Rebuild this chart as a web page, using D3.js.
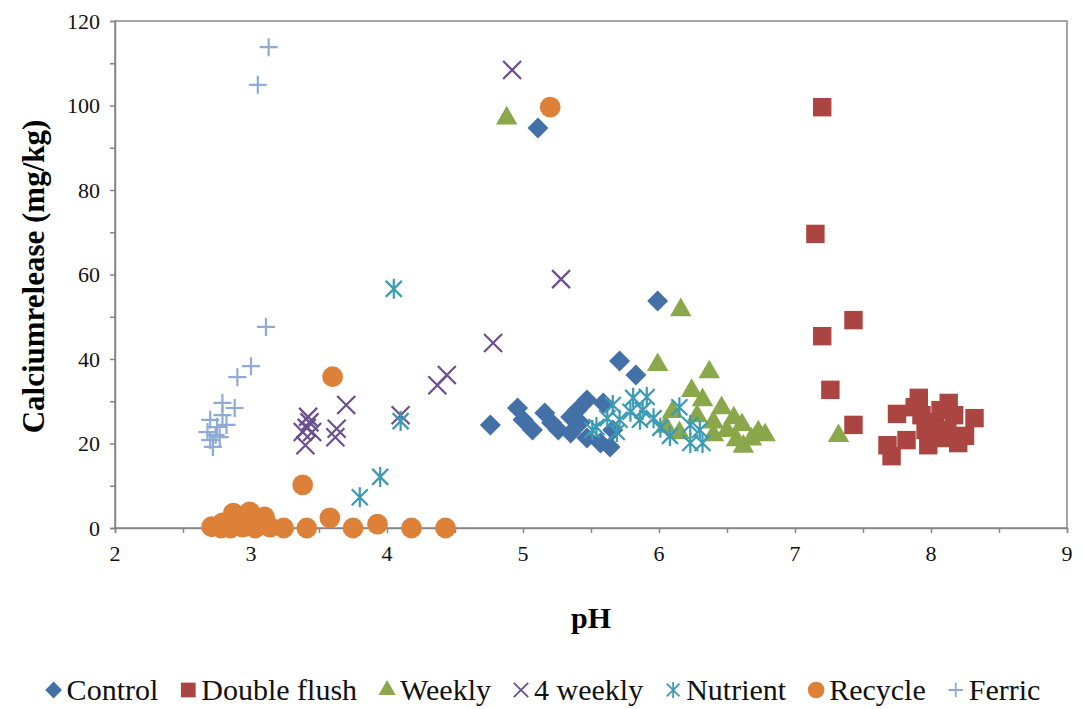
<!DOCTYPE html>
<html>
<head>
<meta charset="utf-8">
<script src="https://cdn.jsdelivr.net/npm/d3@7"></script>
<style>
  body { margin: 0; background: #fff; }
  svg { display: block; font-family: "Liberation Serif", "DejaVu Serif", serif; }
</style>
</head>
<body>
<svg id="chart" width="1082" height="709"></svg>
<script>
// values: [pH, calcium release]
var control = [[4.76,24.4],[4.96,28.4],[5.00,25.6],[5.07,23.2],[5.16,27.2],[5.21,24.9],[5.26,23.2],
  [5.35,22.5],[5.35,26.3],[5.40,27.9],[5.47,30.3],[5.42,24.9],[5.47,21.3],[5.57,20.1],[5.59,29.6],
  [5.64,19.2],[5.66,23.2],[5.71,39.5],[5.83,36.2],[5.99,53.7],[5.11,94.7]];
var doubleFlush = [[7.20,99.6],[7.15,69.6],[7.20,45.4],[7.43,49.2],[7.26,32.7],[7.43,24.4],
  [7.75,27.0],[7.91,30.8],[8.13,29.6],[8.32,26.0],[7.68,19.6],[7.71,17.0],[7.82,20.8],[7.98,19.6],
  [8.08,21.3],[8.20,20.1],[8.25,21.8],[8.03,25.1],[7.93,26.7],[8.17,26.7],[7.88,28.6],[8.07,27.9],
  [7.96,23.2],[8.12,23.2]];
var weekly = [[4.88,97.0],[5.99,38.6],[6.16,51.6],[6.37,36.9],[7.32,21.8],[6.24,32.5],[6.32,30.3],
  [6.10,27.5],[6.46,28.4],[6.61,24.4],[6.73,22.7],[6.78,22.0],[6.57,20.8],[6.62,19.3],[6.05,24.0],
  [6.15,22.5],[6.28,26.5],[6.40,25.0],[6.50,23.0],[6.68,21.0],[6.40,22.0],[6.55,26.0]];
var fourWeekly = [[3.42,26.3],[3.40,19.6],[3.41,23.7],[3.38,22.7],[3.45,22.7],[3.43,25.0],
  [3.62,21.5],[3.63,23.5],[3.70,29.1],[4.10,26.7],[4.37,33.8],[4.44,36.2],[4.78,43.8],[5.28,58.9],
  [4.92,108.4]];
var nutrient = [[4.05,56.6],[4.10,25.3],[3.95,12.1],[3.80,7.3],[5.54,23.9],[5.66,29.1],[5.81,30.8],
  [5.91,31.0],[5.88,27.9],[5.69,22.7],[5.71,25.6],[5.86,25.6],[5.96,26.0],[6.01,23.7],[6.08,21.8],
  [6.15,28.6],[6.23,24.4],[6.30,23.2],[6.23,20.1],[6.32,20.1],[5.51,23.2],[5.62,26.0],[5.79,27.5]];
var recycle = [[2.71,0.3],[2.79,1.2],[2.87,3.5],[2.99,3.8],[3.10,2.6],[2.94,0.2],[3.03,0],[3.14,0.2],
  [3.24,0],[3.41,0],[3.58,2.4],[3.75,0],[3.93,0.9],[4.18,0],[4.43,0],[3.38,10.2],[3.60,35.8],
  [5.20,99.6],[2.85,0],[2.78,0]];
var ferric = [[3.13,113.8],[3.05,104.9],[3.11,47.6],[3.00,38.3],[2.90,35.7],[2.79,29.6],[2.88,28.4],
  [2.79,26.7],[2.70,25.6],[2.82,24.4],[2.68,22.7],[2.70,20.8],[2.72,19.2],[2.77,21.5],[2.75,23.9],
  [2.74,22.0]];

var seriesNames = ["Control", "Double flush", "Weekly", "4 weekly", "Nutrient", "Recycle", "Ferric"];
var seriesData = [control, doubleFlush, weekly, fourWeekly, nutrient, recycle, ferric];
var seriesColors = ["#4470a8", "#aa4542", "#8aa84b", "#6c4f8f", "#3b9bb5", "#dd8139", "#8faad3"];
var seriesShapes = ["diamond", "square", "triangle", "x", "asterisk", "circle", "plus"];

var xTicks = [2, 3, 4, 5, 6, 7, 8, 9];
var yTicks = [0, 20, 40, 60, 80, 100, 120];

var svg = d3.select("#chart");
var plotLeft = 115, plotRight = 1067, plotTop = 21, plotBottom = 528;

var x = d3.scaleLinear().domain([2, 9]).range([plotLeft, plotRight]);
var y = d3.scaleLinear().domain([0, 120]).range([plotBottom, plotTop]);

var axisColor = "#868686";

// plot frame
svg.append("rect")
  .attr("x", plotLeft).attr("y", plotTop)
  .attr("width", plotRight - plotLeft).attr("height", plotBottom - plotTop)
  .attr("fill", "none").attr("stroke", axisColor).attr("stroke-width", 1.5);

// axes (ticks every 10 on y, every 0.5 on x)
var yAxis = svg.append("g").attr("transform", "translate(" + plotLeft + ",0)")
  .call(d3.axisLeft(y).tickValues(d3.range(0, 121, 10)).tickSize(5).tickFormat(""));
var xAxis = svg.append("g").attr("transform", "translate(0," + plotBottom + ")")
  .call(d3.axisBottom(x).tickValues(d3.range(2, 9.01, 0.5)).tickSize(5).tickFormat(""));
[xAxis, yAxis].forEach(function(g) {
  g.selectAll("path, line").attr("stroke", axisColor).attr("stroke-width", 1.5);
});

svg.append("g").selectAll("text").data(yTicks).join("text")
  .attr("x", 100).attr("y", function(d) { return y(d); })
  .attr("dy", "0.35em").attr("text-anchor", "end")
  .attr("font-size", 22).attr("fill", "#111")
  .text(function(d) { return d; });

svg.append("g").selectAll("text").data(xTicks).join("text")
  .attr("x", function(d) { return x(d); }).attr("y", 561)
  .attr("text-anchor", "middle")
  .attr("font-size", 22).attr("fill", "#111")
  .text(function(d) { return d; });

svg.append("text")
  .attr("transform", "translate(44," + ((plotTop + plotBottom) / 2 + 2) + ") rotate(-90)")
  .attr("text-anchor", "middle").attr("font-weight", "bold").attr("font-size", 31)
  .text("Calciumrelease (mg/kg)");

svg.append("text")
  .attr("x", (plotLeft + plotRight) / 2).attr("y", 628)
  .attr("text-anchor", "middle").attr("font-weight", "bold").attr("font-size", 30)
  .text("pH");

// marker shapes
function markerPath(shape) {
  if (shape === "diamond") return "M0,-10.5L10.5,0L0,10.5L-10.5,0Z";
  if (shape === "square") return d3.symbol(d3.symbolSquare, 340)();
  if (shape === "triangle") return d3.symbol(d3.symbolTriangle, 200)();
  if (shape === "circle") return d3.symbol(d3.symbolCircle, 340)();
  if (shape === "x") return "M-9,-9L9,9M-9,9L9,-9";
  if (shape === "asterisk") return "M-8,-8L8,8M-8,8L8,-8M0,-10L0,10";
  if (shape === "plus") return "M-9,0L9,0M0,-9L0,9";
}
function styleMarker(sel, i) {
  var shape = seriesShapes[i];
  var stroked = shape === "x" || shape === "asterisk" || shape === "plus";
  sel.attr("d", markerPath(shape))
    .attr("fill", stroked ? "none" : seriesColors[i])
    .attr("stroke", stroked ? seriesColors[i] : "none")
    .attr("stroke-width", stroked ? 2.2 : 0);
}

seriesData.forEach(function(data, i) {
  svg.append("g").selectAll("path").data(data).join("path")
    .attr("transform", function(d) { return "translate(" + x(d[0]) + "," + y(d[1]) + ")"; })
    .call(styleMarker, i);
});

// legend, centred under the chart
var legend = svg.append("g");
var lx = 0;
seriesNames.forEach(function(name, i) {
  var item = legend.append("g").attr("transform", "translate(" + lx + ",0)");
  item.append("path").attr("transform", "translate(8,0) scale(0.8)").call(styleMarker, i);
  var t = item.append("text").attr("x", 21).attr("dy", "0.33em")
    .attr("font-size", 30).attr("fill", "#111").text(name);
  lx += 21 + t.node().getComputedTextLength() + 22;
});
legend.attr("transform", "translate(" + (543 - (lx - 22) / 2) + ",690)");
</script>
</body>
</html>
